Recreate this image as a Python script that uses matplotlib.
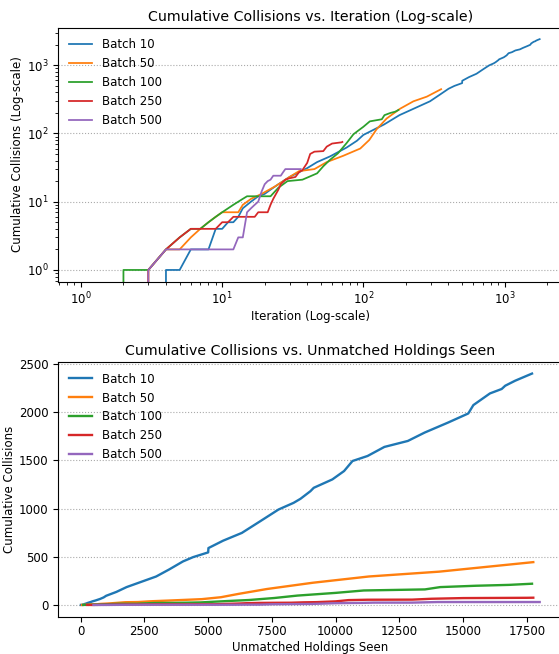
import numpy as np
import matplotlib
matplotlib.use("Agg")
import matplotlib.pyplot as plt

labels = ["Batch 10", "Batch 50", "Batch 100", "Batch 250", "Batch 500"]
batch_sizes = [10, 50, 100, 250, 500]

b10_iter = [1, 2, 3, 4, 5, 6, 8, 9, 10, 11, 12, 13, 14, 16, 18, 20, 22, 25, 30, 35, 40, 47, 58, 76,
            90, 100, 140, 180, 296, 347, 401, 441, 500, 501, 559, 632, 704, 776, 835, 862, 901, 914,
            987, 1033, 1066, 1125, 1191, 1283, 1349, 1441, 1520, 1540, 1605, 1651, 1665, 1704, 1770]
b10_vals = [0, 0, 0, 1, 1, 2, 2, 4, 4, 5, 5, 6, 8, 10, 12, 13, 15, 18, 23, 27, 31, 38, 46, 62,
            78, 95, 135, 185, 295, 368, 451, 496, 545, 590, 667, 747, 868, 990, 1059, 1101, 1180, 1215,
            1302, 1389, 1493, 1545, 1639, 1701, 1788, 1892, 1986, 2073, 2194, 2240, 2274, 2326, 2400]

b50_iter = [1, 2, 3, 4, 5, 6, 7, 8, 9, 10, 13, 14, 16, 19, 24, 30, 35, 45, 55, 72, 95, 110, 124,
            146, 182, 226, 281, 355]
b50_vals = [0, 0, 1, 2, 2, 3, 4, 5, 6, 7, 7, 9, 11, 13, 17, 23, 28, 30, 38, 47, 60, 80, 115,
            165, 230, 295, 345, 444]

b100_iter = [1, 2, 3, 4, 5, 6, 7, 8, 9, 10, 12, 14, 15, 22, 25, 29, 37, 41, 47, 52, 58, 66, 76,
             85, 92, 100, 111, 135, 141, 155, 168, 177]
b100_vals = [0, 1, 1, 2, 3, 4, 4, 5, 6, 7, 9, 11, 12, 12, 16, 20, 21, 23, 26, 33, 41, 51, 72,
             97, 110, 125, 150, 161, 185, 199, 208, 220]

b250_iter = [1, 2, 3, 4, 5, 6, 9, 10, 11, 12, 17, 18, 21, 22, 23, 25, 26, 28, 30, 33, 35, 37, 40,
             42, 45, 52, 55, 60, 70, 71]
b250_vals = [0, 0, 1, 2, 3, 4, 4, 5, 5, 6, 6, 7, 7, 9, 11, 15, 18, 21, 22, 23, 27, 29, 37,
             50, 54, 55, 64, 71, 74, 75]

b500_iter = [1, 2, 3, 4, 12, 13, 14, 15, 16, 17, 18, 19, 20, 21, 22, 23, 26, 27, 28, 36]
b500_vals = [0, 0, 1, 2, 2, 3, 3, 7, 8, 9, 10, 14, 18, 20, 21, 24, 24, 27, 30, 30]

iters = [b10_iter, b50_iter, b100_iter, b250_iter, b500_iter]
vals = [b10_vals, b50_vals, b100_vals, b250_vals, b500_vals]

s = 0.85
plt.rcParams.update({
    "font.size": 10 * s,
    "axes.titlesize": 12 * s,
    "axes.labelsize": 10 * s,
    "xtick.labelsize": 10 * s,
    "ytick.labelsize": 10 * s,
    "legend.fontsize": 10 * s,
    "xtick.major.pad": 2.8,
    "ytick.major.pad": 3.2,
    "xtick.minor.pad": 2.8,
    "ytick.minor.pad": 3.2,
    "axes.linewidth": 0.8,
    "axes.titlepad": 5,
    "axes.labelpad": 2,
})

W, H = 559, 654
fig = plt.figure(figsize=(W / 100, H / 100), dpi=100)

def frac(left, top, right, bottom):
    return [left / W, 1 - bottom / H, (right - left) / W, (bottom - top) / H]

ax1 = fig.add_axes(frac(58, 27.6, 562.6, 281.5))
ax2 = fig.add_axes(frac(58, 362, 562.6, 616.5))

for it, v, lab in zip(iters, vals, labels):
    ax1.plot(it, v, label=lab, lw=1.5 * s)
ax1.set_xscale("log")
ax1.set_yscale("log")
ax1.set_title("Cumulative Collisions vs. Iteration (Log-scale)")
ax1.set_xlabel("Iteration (Log-scale)")
ax1.set_ylabel("Cumulative Collisions (Log-scale)")
ax1.grid(axis="y", which="major", linestyle=":", color="#aaaaaa", lw=0.8)
ax1.legend(loc="upper left", frameon=False)

for it, v, lab, b in zip(iters, vals, labels, batch_sizes):
    ax2.plot(np.array(it) * b, v, label=lab, lw=2 * s)
ax2.set_title("Cumulative Collisions vs. Unmatched Holdings Seen")
ax2.set_xlabel("Unmatched Holdings Seen")
ax2.set_ylabel("Cumulative Collisions")
ax2.grid(axis="y", linestyle=":", color="#aaaaaa", lw=0.8)
ax2.legend(loc="upper left", frameon=False)

fig.savefig("out.png", dpi=100)
